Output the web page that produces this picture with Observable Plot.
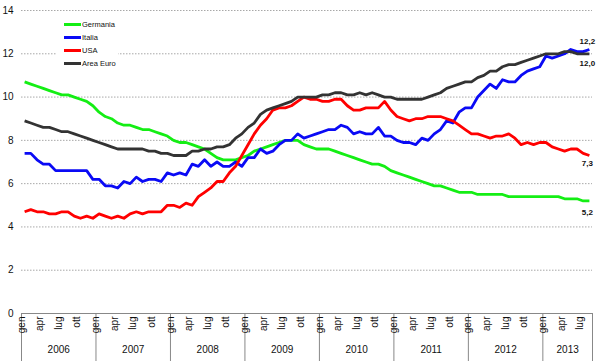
<!DOCTYPE html>
<html>
<head>
<meta charset="utf-8">
<script src="https://cdn.jsdelivr.net/npm/d3@7"></script>
<script src="https://cdn.jsdelivr.net/npm/@observablehq/plot@0.6"></script>
<style>
  html, body { margin: 0; padding: 0; background: #fff; }
  #chart { position: relative; width: 600px; height: 361px; font-family: "Liberation Sans", Arial, sans-serif; }
  #legend { position: absolute; left: 57px; top: 16px; width: 61px; height: 56px; background: #fff; }
  .item { position: absolute; left: 7px; height: 10px; display: flex; align-items: center; }
  .sw { width: 17px; height: 3px; }
  .lab { font-size: 7.5px; color: #111; margin-left: 1px; white-space: nowrap; }
</style>
</head>
<body>
<div id="chart"></div>
<script>
const years = [2006, 2007, 2008, 2009, 2010, 2011, 2012, 2013];
const monthLabels = ["gen", "feb", "mar", "apr", "mag", "giu", "lug", "ago", "set", "ott", "nov", "dic"];
const yTicks = [0, 2, 4, 6, 8, 10, 12, 14];

const germania = [
  10.7, 10.6, 10.5, 10.4, 10.3, 10.2, 10.1, 10.1, 10.0, 9.9, 9.8, 9.6,
  9.3, 9.1, 9.0, 8.8, 8.7, 8.7, 8.6, 8.5, 8.5, 8.4, 8.3, 8.2,
  8.0, 7.9, 7.9, 7.8, 7.7, 7.6, 7.4, 7.2, 7.1, 7.1, 7.1, 7.2,
  7.3, 7.5, 7.6, 7.7, 7.8, 7.9, 8.0, 8.0, 8.0, 7.8, 7.7, 7.6,
  7.6, 7.6, 7.5, 7.4, 7.3, 7.2, 7.1, 7.0, 6.9, 6.9, 6.8, 6.6,
  6.5, 6.4, 6.3, 6.2, 6.1, 6.0, 5.9, 5.9, 5.8, 5.7, 5.6, 5.6,
  5.6, 5.5, 5.5, 5.5, 5.5, 5.5, 5.4, 5.4, 5.4, 5.4, 5.4, 5.4,
  5.4, 5.4, 5.4, 5.3, 5.3, 5.3, 5.2, 5.2
];
const italia = [
  7.4, 7.4, 7.1, 6.9, 6.9, 6.6, 6.6, 6.6, 6.6, 6.6, 6.6, 6.2,
  6.2, 5.9, 5.9, 5.8, 6.1, 6.0, 6.3, 6.1, 6.2, 6.2, 6.1, 6.5,
  6.4, 6.5, 6.4, 6.9, 6.8, 7.1, 6.8, 7.0, 6.8, 6.8, 7.0, 6.8,
  7.2, 7.2, 7.6, 7.4, 7.5, 7.8, 8.0, 8.0, 8.3, 8.1, 8.2, 8.3,
  8.4, 8.5, 8.5, 8.7, 8.6, 8.3, 8.4, 8.3, 8.3, 8.6, 8.2, 8.2,
  8.0, 7.9, 7.9, 7.8, 8.1, 8.0, 8.3, 8.5, 8.9, 8.8, 9.3, 9.5,
  9.5, 10.0, 10.3, 10.6, 10.4, 10.8, 10.7, 10.7, 11.0, 11.2, 11.3, 11.4,
  11.9, 11.8, 11.9, 12.0, 12.2, 12.1, 12.1, 12.2
];
const usa = [
  4.7, 4.8, 4.7, 4.7, 4.6, 4.6, 4.7, 4.7, 4.5, 4.4, 4.5, 4.4,
  4.6, 4.5, 4.4, 4.5, 4.4, 4.6, 4.7, 4.6, 4.7, 4.7, 4.7, 5.0,
  5.0, 4.9, 5.1, 5.0, 5.4, 5.6, 5.8, 6.1, 6.1, 6.5, 6.8, 7.3,
  7.8, 8.3, 8.7, 9.0, 9.4, 9.5, 9.5, 9.6, 9.8, 10.0, 9.9, 9.9,
  9.8, 9.8, 9.9, 9.9, 9.6, 9.4, 9.4, 9.5, 9.5, 9.5, 9.8, 9.4,
  9.1, 9.0, 8.9, 9.0, 9.0, 9.1, 9.1, 9.1, 9.0, 8.9, 8.7, 8.5,
  8.3, 8.3, 8.2, 8.1, 8.2, 8.2, 8.3, 8.1, 7.8, 7.9, 7.8, 7.9,
  7.9, 7.7, 7.6, 7.5, 7.6, 7.6, 7.4, 7.3
];
const areaEuro = [
  8.9, 8.8, 8.7, 8.6, 8.6, 8.5, 8.4, 8.4, 8.3, 8.2, 8.1, 8.0,
  7.9, 7.8, 7.7, 7.6, 7.6, 7.6, 7.6, 7.6, 7.5, 7.5, 7.4, 7.4,
  7.3, 7.3, 7.3, 7.5, 7.5, 7.6, 7.6, 7.7, 7.7, 7.8, 8.1, 8.3,
  8.6, 8.8, 9.2, 9.4, 9.5, 9.6, 9.7, 9.8, 10.0, 10.0, 10.0, 10.0,
  10.1, 10.1, 10.2, 10.2, 10.1, 10.1, 10.2, 10.1, 10.2, 10.1, 10.0, 10.0,
  9.9, 9.9, 9.9, 9.9, 9.9, 10.0, 10.1, 10.2, 10.4, 10.5, 10.6, 10.7,
  10.7, 10.9, 11.0, 11.2, 11.2, 11.4, 11.5, 11.5, 11.6, 11.7, 11.8, 11.9,
  12.0, 12.0, 12.0, 12.1, 12.1, 12.0, 12.0, 12.0
];

const seriesNames = ["Germania", "Italia", "USA", "Area Euro"];
const seriesValues = [germania, italia, usa, areaEuro];
const seriesColors = ["#14ee14", "#0a0af5", "#ff0000", "#333333"];
const endLabelDy = [11, -8, 8, 10];

const N = germania.length;
const idx = d3.range(N);
const rows = seriesNames.flatMap((name, s) =>
  seriesValues[s].map((v, i) => ({ series: name, i, v }))
);
const monthTicks = idx.filter(i => i % 12 % 3 === 0);
const boundaries = years.map((y, k) => k * 12 - 0.5).concat([N - 0.5]);
const yearCenters = years.map((y, k) => (k * 12 - 0.5 + Math.min(k * 12 + 11.5, N - 0.5)) / 2);
const fmt = v => d3.format(".1f")(v).replace(".", ",");
const font = "Liberation Sans, Arial, sans-serif";

const marks = [
  Plot.gridY(yTicks.filter(t => t > 0), { stroke: "#a8a8a8", strokeOpacity: 1, strokeDasharray: "1.5,1.5" }),
  Plot.axisY(yTicks, { tickSize: 0, tickPadding: 8, fontSize: 10, label: null, fill: "#111" }),
  Plot.ruleY([0], { stroke: "#888", strokeWidth: 1 }),
  Plot.axisX(boundaries, { tickSize: 49, tickFormat: () => "", label: null, stroke: "#888" }),
  Plot.text(monthTicks, {
    x: d => d, text: d => monthLabels[d % 12], frameAnchor: "bottom",
    rotate: -90, textAnchor: "end", dy: 3, fontSize: 10, fill: "#111"
  }),
  Plot.text(years, {
    x: (d, k) => yearCenters[k], text: d => String(d), frameAnchor: "bottom",
    dy: 39, fontSize: 10, fill: "#111"
  }),
  ...seriesNames.map((name, s) =>
    Plot.line(rows.filter(r => r.series === name), {
      x: "i", y: "v", stroke: seriesColors[s], strokeWidth: 2.8, strokeLinejoin: "round", strokeLinecap: "butt"
    })
  ),
  ...seriesNames.map((name, s) =>
    Plot.text([N - 1], {
      x: d => d, y: d => seriesValues[s][d], text: d => fmt(seriesValues[s][d]),
      dy: endLabelDy[s], dx: -2, fontSize: 8, fontWeight: "bold", fill: "#111"
    })
  )
];

const chart = Plot.plot({
  width: 600,
  height: 361,
  marginLeft: 21,
  marginRight: 8,
  marginTop: 10,
  marginBottom: 48,
  style: { fontFamily: font, background: "#fff", overflow: "visible" },
  x: { type: "linear", domain: [-0.5, N - 0.5], axis: null },
  y: { domain: [0, 14], axis: null },
  marks
});

const container = document.getElementById("chart");
container.appendChild(chart);

const legend = document.createElement("div");
legend.id = "legend";
seriesNames.forEach((name, s) => {
  const item = document.createElement("div");
  item.className = "item";
  item.style.top = (3 + s * 13.3) + "px";
  const sw = document.createElement("div");
  sw.className = "sw";
  sw.style.background = seriesColors[s];
  const lab = document.createElement("span");
  lab.className = "lab";
  lab.textContent = name;
  item.appendChild(sw);
  item.appendChild(lab);
  legend.appendChild(item);
});
container.appendChild(legend);
</script>
</body>
</html>
